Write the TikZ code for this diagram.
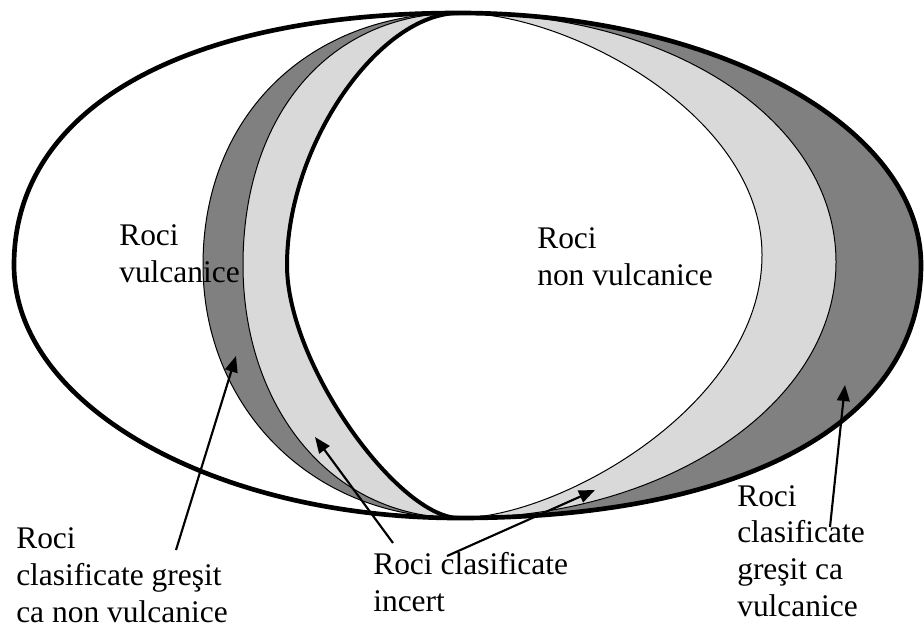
\documentclass[tikz,border=0pt]{standalone}
\usepackage{fontspec}
\setmainfont{Liberation Serif}
\usetikzlibrary{arrows.meta}
\definecolor{darkband}{RGB}{128,128,128}
\definecolor{lightband}{RGB}{217,217,217}
\begin{document}
\begin{tikzpicture}[x=0.75pt,y=-0.75pt,
  thinline/.style={draw=black,line width=0.75pt},
  boldline/.style={draw=black,line width=3pt},
  outerline/.style={draw=black,line width=3.5pt},
  lbl/.style={font=\fontsize{23.6}{27.4}\selectfont,align=left,anchor=base west,inner sep=0pt},
  arr/.style={draw=black,line width=1.6pt,-{Triangle[length=12pt,width=9.5pt]}}]
\useasboundingbox (0,0) rectangle (924,628);

% band fills, layered from the outermost to the innermost
\fill[darkband] (459,13) .. controls (309,13) and (203,115) .. (203,265)
  .. controls (203,405) and (309,518) .. (459,518)
  .. controls (745.4,518) and (921,421.9) .. (921,265)
  .. controls (921,125.8) and (714.2,13) .. (459,13) -- cycle;
\fill[lightband] (459,13) .. controls (329,13) and (243,115) .. (243,265)
  .. controls (243,405) and (329,518) .. (459,518)
  .. controls (667,518) and (836,403.4) .. (836,262)
  .. controls (836,125) and (679,13) .. (459,13) -- cycle;
\fill[white] (459,13) .. controls (379,13) and (287,145) .. (287,265)
  .. controls (287,365) and (399,518) .. (459,518)
  .. controls (559,518) and (762,405) .. (762,255)
  .. controls (762,115) and (569,13) .. (459,13) -- cycle;

% thin band borders
\path[thinline] (459,13) .. controls (309,13) and (203,115) .. (203,265)
  .. controls (203,405) and (309,518) .. (459,518);
\path[thinline] (459,13) .. controls (329,13) and (243,115) .. (243,265)
  .. controls (243,405) and (329,518) .. (459,518);
\path[thinline] (459,13) .. controls (569,13) and (762,115) .. (762,255)
  .. controls (762,405) and (559,518) .. (459,518);
\path[thinline] (459,13) .. controls (679,13) and (836,125) .. (836,262)
  .. controls (836,403.4) and (667,518) .. (459,518);

% bold border of the non-volcanic region
\path[boldline] (459,13) .. controls (379,13) and (287,145) .. (287,265)
  .. controls (287,365) and (399,518) .. (459,518);

% outer boundary
\path[outerline] (14,265) .. controls (14,108.6) and (183.1,13) .. (459,13)
  .. controls (714.2,13) and (921,125.8) .. (921,265)
  .. controls (921,421.9) and (745.4,518) .. (459,518)
  .. controls (213.2,518) and (14,404.7) .. (14,265) -- cycle;

% labels (anchored at the baseline of their last line)
\node[lbl] (vulc) at (119,282.5) {Roci\\vulcanice};
\node[lbl] (nonvulc) at (537,285.5) {Roci\\non vulcanice};
\node[lbl] (gresitnon) at (16,622) {Roci\\clasificate greşit\\ca non vulcanice};
\node[lbl] (incert) at (373,611.5) {Roci clasificate\\incert};
\node[lbl] (gresitvulc) at (737,616) {Roci\\clasificate\\greşit ca\\vulcanice};

% pointer ends
\coordinate (p1s) at (176,550);
\coordinate (p1e) at (236,356);
\coordinate (p2s) at (393,543);
\coordinate (p2e) at (315,437);
\coordinate (p3s) at (447,556);
\coordinate (p3e) at (595,490);
\coordinate (p4s) at (830,527);
\coordinate (p4e) at (845,385);

\draw[arr] (p1s) -- (p1e);
\draw[arr] (p2s) -- (p2e);
\draw[arr] (p3s) -- (p3e);
\draw[arr] (p4s) -- (p4e);
\end{tikzpicture}
\end{document}
